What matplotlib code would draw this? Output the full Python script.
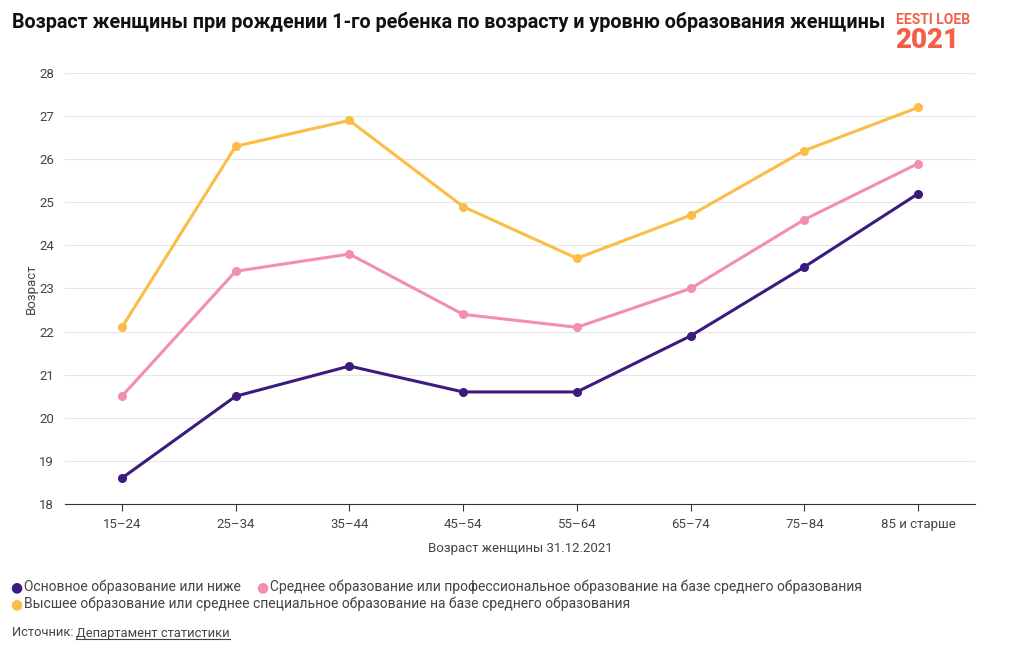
import matplotlib
matplotlib.use("Agg")
import matplotlib.pyplot as plt
from matplotlib.lines import Line2D

plt.rcParams['font.family'] = ['Roboto', 'DejaVu Sans']

categories = ["15–24", "25–34", "35–44", "45–54", "55–64", "65–74", "75–84", "85 и старше"]
basic = [18.6, 20.5, 21.2, 20.6, 20.6, 21.9, 23.5, 25.2]
secondary = [20.5, 23.4, 23.8, 22.4, 22.1, 23.0, 24.6, 25.9]
higher = [22.1, 26.3, 26.9, 24.9, 23.7, 24.7, 26.2, 27.2]
series_names = [
    "Основное образование или ниже",
    "Среднее образование или профессиональное образование на базе среднего образования",
    "Высшее образование или среднее специальное образование на базе среднего образования",
]
colors = ["#3b1c7e", "#f28fab", "#fbbd45"]
yticks = list(range(18, 29))

fig = plt.figure(figsize=(10.2, 6.5), dpi=100)
ax = fig.add_axes([65/1020, 1-504/650, 910/1020, (504-73)/650])

x = list(range(len(categories)))
for vals, c in zip([higher, secondary, basic], [colors[2], colors[1], colors[0]]):
    ax.plot(x, vals, color=c, lw=2.2, marker='o', ms=5.5, zorder=3)

ax.set_xlim(-0.5, len(categories) - 0.5)
ax.set_ylim(18, 28)
ax.set_yticks(yticks)
ax.set_xticks(x)
ax.set_xticklabels(categories)
ax.grid(axis='y', color='#e6e6e6', lw=0.8)
ax.set_axisbelow(True)
for s in ['top', 'right', 'left']:
    ax.spines[s].set_visible(False)
ax.spines['bottom'].set_color('#333333')
ax.tick_params(axis='y', length=0, labelsize=9.5, labelcolor='#444444', pad=8)
ax.tick_params(axis='x', length=5, color='#333333', labelsize=9.5, labelcolor='#444444', pad=5)
ax.set_xlabel("Возраст женщины 31.12.2021", fontsize=9.5, color='#444444', labelpad=8)
ax.set_ylabel("Возраст", fontsize=9.5, color='#444444', labelpad=1)

fig.text(12/1020, 1-22/650, "Возраст женщины при рождении 1-го ребенка по возрасту и уровню образования женщины",
         fontsize=14.2, fontweight='bold', color='#111111', va='center', ha='left')

# logo
fig.text(896/1020, 1-20/650, "EESTI LOEB", fontsize=10, fontweight='bold', color='#f2604a', va='center', ha='left')
fig.text(895/1020, 1-40/650, "2021", fontsize=20, fontweight='black', color='#f2604a', va='center', ha='left')

# legend
def leg_item(px, py, color, label):
    fig.text(px/1020, 1-py/650, "●", fontsize=10, color=color, va='center', ha='left')
    fig.text((px+14)/1020, 1-py/650, label, fontsize=10, color='#444444', va='center', ha='left')

leg_item(10, 587, colors[0], series_names[0])
leg_item(256, 587, colors[1], series_names[1])
leg_item(10, 604, colors[2], series_names[2])

fig.text(12/1020, 1-633/650, "Источник: ", fontsize=9.3, color='#444444', va='center', ha='left')
t = fig.text(76/1020, 1-633/650, "Департамент статистики", fontsize=9.3, color='#444444', va='center', ha='left')
fig.canvas.draw()
bb = t.get_window_extent()
fig.add_artist(Line2D([bb.x0/1020, bb.x1/1020], [(bb.y0+1)/650, (bb.y0+1)/650], color='#444444', lw=0.8))

fig.savefig("out.png", dpi=100)
